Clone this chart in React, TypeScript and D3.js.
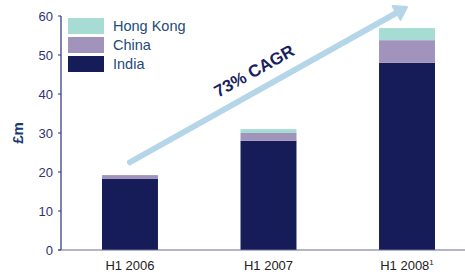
import { useEffect } from "react";
import * as d3 from "d3";

const categories = ["H1 2006", "H1 2007", "H1 2008"];
const india = [18.2, 28, 48];
const china = [1, 2, 5.8];
const hongKong = [0, 1, 3.1];
const yTicks = [0, 10, 20, 30, 40, 50, 60];
const seriesNames = ["Hong Kong", "China", "India"];
const cagrLabel = "73% CAGR";
// arrow in data space: [category index, value]
const arrowFrom: [number, number] = [0, 22.5];
const arrowTo: [number, number] = [2, 62.3];

const COLORS: Record<string, string> = {
  India: "#161c58",
  China: "#a293bd",
  "Hong Kong": "#a6dcd4",
};

const width = 465;
const height = 275;
const FONT = "Liberation Sans, Arial, sans-serif";

export default function App() {
  useEffect(() => {
    document.body.style.margin = "0";
  }, []);

  const x = d3.scaleBand<string>()
    .domain(categories)
    .range([61, 476])
    .paddingInner(0.596)
    .paddingOuter(0.296);
  const y = d3.scaleLinear().domain([0, 60]).range([250, 16]);

  const rows = categories.map((c, i) => ({
    cat: c,
    India: india[i],
    China: china[i],
    "Hong Kong": hongKong[i],
  }));
  const stack = d3.stack<any>().keys(["India", "China", "Hong Kong"])(rows);

  const ax = (p: [number, number]) => [x(categories[p[0]])! + x.bandwidth() / 2, y(p[1])];
  const [x1, y1] = ax(arrowFrom);
  const [x2, y2] = ax(arrowTo);
  const ang = Math.atan2(y2 - y1, x2 - x1);
  const headLen = 12;
  const headW = 8;
  const bx = x2 - headLen * Math.cos(ang);
  const by = y2 - headLen * Math.sin(ang);
  const px = -Math.sin(ang);
  const py = Math.cos(ang);
  const head = `M${x2},${y2} L${bx + px * headW},${by + py * headW} L${bx - px * headW},${by - py * headW} Z`;
  const angDeg = (ang * 180) / Math.PI;

  return (
    <svg width={width} height={height} style={{ display: "block" }} fontFamily={FONT}>
      {stack.map((s) => (
        <g key={s.key} fill={COLORS[s.key]}>
          {s.map((d, i) => (
            <rect
              key={i}
              x={x(categories[i])}
              y={y(d[1])}
              width={x.bandwidth()}
              height={Math.max(0, y(d[0]) - y(d[1]))}
            />
          ))}
        </g>
      ))}

      {/* axes */}
      <line x1={61} x2={61} y1={y(60)} y2={y(0)} stroke="#2b2f78" strokeWidth={1.2} />
      <line x1={58} x2={width} y1={y(0)} y2={y(0)} stroke="#6a6c9c" strokeWidth={1.2} />
      {yTicks.map((t) => (
        <g key={t}>
          <line x1={58} x2={61} y1={y(t)} y2={y(t)} stroke="#2b2f78" strokeWidth={1} />
          <text x={53} y={y(t)} dy="0.35em" textAnchor="end" fontSize={13} fill="#2e3370">
            {t}
          </text>
        </g>
      ))}
      {categories.map((c, i) => (
        <text
          key={c}
          x={x(c)! + x.bandwidth() / 2}
          y={270}
          textAnchor="middle"
          fontSize={13}
          fill="#222"
        >
          {c}
          {i === 2 && (
            <tspan fontSize={8} dy={-5}>
              1
            </tspan>
          )}
        </text>
      ))}
      <text
        transform={`translate(23,133) rotate(-90)`}
        textAnchor="middle"
        fontSize={15}
        fontWeight="bold"
        fill="#1a3a6e"
      >
        £m
      </text>

      {/* legend */}
      {seriesNames.map((n, i) => (
        <g key={n} transform={`translate(68,${18 + i * 19})`}>
          <rect width={36} height={16} fill={COLORS[n]} />
          <text x={45} y={8} dy="0.35em" fontSize={14.5} fill="#254a7a">
            {n}
          </text>
        </g>
      ))}

      {/* CAGR arrow */}
      <line
        x1={x1}
        y1={y1}
        x2={bx}
        y2={by}
        stroke="#b5d6e8"
        strokeWidth={6}
        strokeLinecap="round"
      />
      <path d={head} fill="#b5d6e8" stroke="#b5d6e8" strokeWidth={2} strokeLinejoin="round" />
      <text
        transform={`translate(257,76) rotate(${angDeg})`}
        textAnchor="middle"
        fontSize={17}
        fontWeight="bold"
        fill="#1a1f5e"
      >
        {cagrLabel}
      </text>
    </svg>
  );
}
